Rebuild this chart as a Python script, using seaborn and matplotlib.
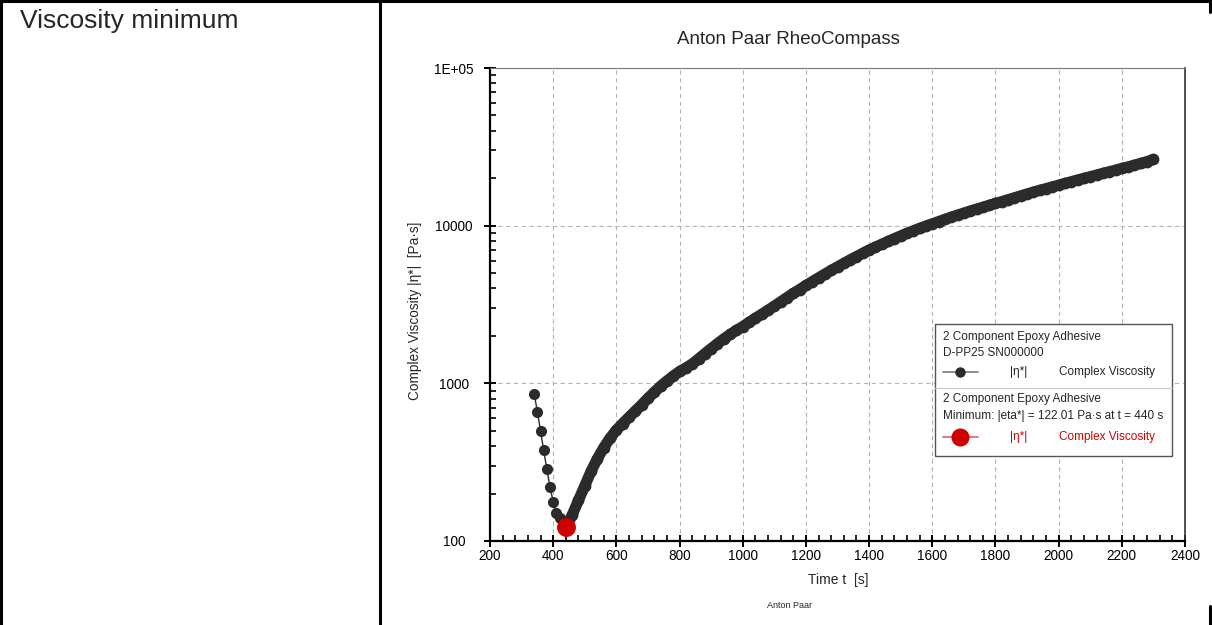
import numpy as np
import pandas as pd
import matplotlib
matplotlib.use("Agg")
import matplotlib.pyplot as plt
import matplotlib.ticker as mticker
from matplotlib.lines import Line2D
from matplotlib.patches import Rectangle
import seaborn as sns

# falling branch before the minimum (s, Pa.s)
t_drop = [340, 350, 360, 370, 380, 390, 400, 410, 420, 430]
eta_drop = [858, 659, 500, 375, 286, 219, 178, 151, 140, 130]

# viscosity minimum
t_min = 440
eta_min = 122.01

# rising branch after the minimum
t_rise = [460, 480, 500, 520, 540, 560, 580, 600, 620, 640, 660, 680, 700, 720, 740,
          760, 780, 800, 820, 840, 860, 880, 900, 920, 940, 960, 980, 1000, 1020, 1040,
          1060, 1080, 1100, 1120, 1140, 1160, 1180, 1200, 1220, 1240, 1260, 1280, 1300,
          1320, 1340, 1360, 1380, 1400, 1420, 1440, 1460, 1480, 1500, 1520, 1540, 1560,
          1580, 1600, 1620, 1640, 1660, 1680, 1700, 1720, 1740, 1760, 1780, 1800, 1820,
          1840, 1860, 1880, 1900, 1920, 1940, 1960, 1980, 2000, 2020, 2040, 2060, 2080,
          2100, 2120, 2140, 2160, 2180, 2200, 2220, 2240, 2260, 2280, 2300]
eta_rise = [146, 181, 224, 277, 333, 391, 449, 505, 556, 610, 667, 731, 804, 879, 959,
            1035, 1112, 1189, 1253, 1327, 1429, 1542, 1660, 1786, 1914, 2042, 2168, 2291,
            2438, 2588, 2742, 2911, 3090, 3289, 3499, 3715, 3936, 4178, 4416, 4667, 4932,
            5200, 5483, 5768, 6067, 6368, 6683, 7015, 7311, 7621, 7943, 8279, 8610, 8954,
            9290, 9616, 9954, 10280, 10620, 10960, 11320, 11670, 12020, 12390, 12740,
            13090, 13460, 13840, 14220, 14620, 15030, 15450, 15890, 16330, 16750, 17180,
            17620, 18070, 18540, 19010, 19500, 19950, 20460, 20940, 21480, 21980, 22490,
            23070, 23600, 24210, 24830, 25500, 26300]

y_ticks = [100, 1000, 10000, 100000]
y_tick_labels = ["100", "1000", "10000", "1E+05"]

sns.set_style("white")
plt.rcParams["font.family"] = ["Liberation Sans", "DejaVu Sans"]

W, H = 1212, 625
fig = plt.figure(figsize=(W / 100, H / 100), dpi=100)


def fx(x):
    return x / W


def fy(y):
    return 1 - y / H


ax = fig.add_axes([fx(490), fy(541), fx(1185) - fx(490), fy(68) - fy(541)])

df_drop = pd.DataFrame({"t": t_drop + [t_min], "eta": eta_drop + [eta_min]})
df_rise = pd.DataFrame({"t": [t_min] + t_rise, "eta": [eta_min] + eta_rise})

dark = "#2b2b2b"
red = "#d00000"

# falling branch: separate points joined by a thin line
sns.lineplot(data=df_drop, x="t", y="eta", ax=ax, sort=False, color=dark, linewidth=1.0,
             marker="o", markersize=8, markeredgewidth=0, zorder=3)
# rising branch: points so dense they merge into a thick band
sns.lineplot(data=df_rise, x="t", y="eta", ax=ax, sort=False, color=dark, linewidth=8.0,
             marker="o", markersize=8.5, markeredgewidth=0, zorder=3,
             solid_capstyle="round", solid_joinstyle="round")
sns.scatterplot(x=[t_min], y=[eta_min], ax=ax, color=red, s=185, linewidth=0, zorder=4)

ax.set_yscale("log")
ax.set_xlim(200, 2400)
ax.set_ylim(100, 100000)
ax.set_xlabel("")
ax.set_ylabel("")

ax.xaxis.set_major_locator(mticker.MultipleLocator(200))
ax.xaxis.set_minor_locator(mticker.MultipleLocator(40))
ax.yaxis.set_major_locator(mticker.FixedLocator(y_ticks))
ax.yaxis.set_major_formatter(mticker.FixedFormatter(y_tick_labels))
ax.yaxis.set_minor_locator(mticker.LogLocator(base=10, subs=np.arange(2, 10)))
ax.yaxis.set_minor_formatter(mticker.NullFormatter())

ax.tick_params(axis="both", which="both", bottom=True, left=True, top=False, right=False)
ax.tick_params(axis="both", which="major", direction="inout", length=8, width=1.4,
               color="black", labelsize=9.8, labelcolor="black")
ax.tick_params(axis="both", which="minor", direction="in", length=4, width=1.2,
               color="black")
ax.tick_params(axis="x", which="major", pad=2)
ax.tick_params(axis="y", which="major", pad=22)
for lab in ax.get_yticklabels():
    lab.set_horizontalalignment("center")

ax.grid(True, which="major", color="#b5b5b5", linestyle=(0, (4, 3)), linewidth=0.8)
ax.set_axisbelow(True)

for side in ["left", "bottom"]:
    ax.spines[side].set_color("black")
    ax.spines[side].set_linewidth(1.6)
ax.spines["top"].set_color("#7a7a7a")
ax.spines["top"].set_linewidth(0.8)
ax.spines["right"].set_color("#333333")
ax.spines["right"].set_linewidth(1.2)

# titles and axis labels
fig.text(fx(788), fy(40), "Anton Paar RheoCompass", ha="center", va="center", fontsize=13.5)
fig.text(fx(838), fy(580), "Time t  [s]", ha="center", va="center", fontsize=10)
fig.text(fx(415), fy(311), "Complex Viscosity |η*|  [Pa·s]", ha="center", va="center",
         rotation=90, fontsize=9.8)
fig.text(fx(790), fy(606), "Anton Paar", ha="center", va="center", fontsize=6.5)
fig.text(fx(20), fy(21), "Viscosity minimum", ha="left", va="center", fontsize=19)

# legend box
fig.add_artist(Rectangle((fx(935), fy(456)), fx(1172) - fx(935), fy(324) - fy(456),
                         transform=fig.transFigure, facecolor="white",
                         edgecolor="#555555", linewidth=1.0, zorder=5))
fig.add_artist(Line2D([fx(935), fx(1172)], [fy(388), fy(388)], transform=fig.transFigure,
                      color="#c8c8c8", linewidth=0.8, zorder=6))
leg_fs = 8.5
fig.text(fx(943), fy(337), "2 Component Epoxy Adhesive", fontsize=leg_fs, va="center", zorder=6)
fig.text(fx(943), fy(353), "D-PP25 SN000000", fontsize=leg_fs, va="center", zorder=6)
fig.add_artist(Line2D([fx(943), fx(978)], [fy(372), fy(372)], transform=fig.transFigure,
                      color="#777777", linewidth=1.2, zorder=6))
fig.add_artist(Line2D([fx(960)], [fy(372)], transform=fig.transFigure, color=dark,
                      marker="o", markersize=7.5, markeredgewidth=0, zorder=7))
fig.text(fx(1019), fy(372), "|η*|", fontsize=leg_fs, ha="center", va="center", zorder=6)
fig.text(fx(1059), fy(372), "Complex Viscosity", fontsize=leg_fs, va="center", zorder=6)
fig.text(fx(943), fy(399), "2 Component Epoxy Adhesive", fontsize=leg_fs, va="center", zorder=6)
fig.text(fx(943), fy(416), "Minimum: |eta*| = 122.01 Pa·s at t = 440 s", fontsize=leg_fs,
         va="center", zorder=6)
fig.add_artist(Line2D([fx(943), fx(978)], [fy(437), fy(437)], transform=fig.transFigure,
                      color="#e06060", linewidth=1.2, zorder=6))
fig.add_artist(Line2D([fx(960)], [fy(437)], transform=fig.transFigure, color=red,
                      marker="o", markersize=13, markeredgewidth=0, zorder=7))
fig.text(fx(1019), fy(437), "|η*|", fontsize=leg_fs, ha="center", va="center", color=red,
         zorder=6)
fig.text(fx(1059), fy(437), "Complex Viscosity", fontsize=leg_fs, va="center", color=red,
         zorder=6)

# table cell borders
border = dict(transform=fig.transFigure, color="black", linewidth=2.2)
fig.add_artist(Line2D([0, 1], [fy(1), fy(1)], **border))
fig.add_artist(Line2D([fx(1), fx(1)], [0, 1], **border))
fig.add_artist(Line2D([fx(380), fx(380)], [0, 1], **border))
fig.add_artist(Line2D([fx(1210), fx(1210)], [fy(0), fy(12)], **border))
fig.add_artist(Line2D([fx(1210), fx(1210)], [fy(606), fy(625)], **border))

fig.savefig("out.png", dpi=100)
